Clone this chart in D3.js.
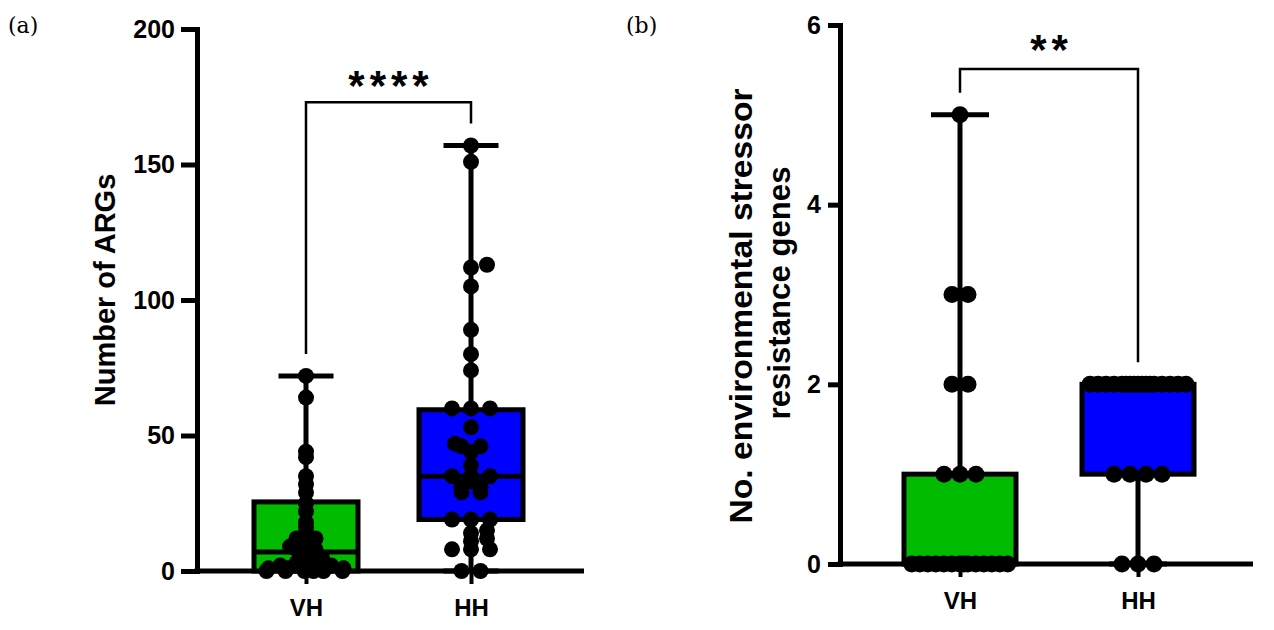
<!DOCTYPE html>
<html>
<head>
<meta charset="utf-8">
<script src="https://cdn.jsdelivr.net/npm/d3@7"></script>
<style>
  body { margin: 0; background: #fff; }
  text { font-family: "Liberation Sans", Arial, sans-serif; font-weight: bold; fill: #000; }
  .lab { font-family: "DejaVu Serif", "Liberation Serif", serif; font-weight: normal; }
</style>
</head>
<body>
<svg id="chart" width="1274" height="630"></svg>
<script>
var groups = ["VH", "HH"];
var colors = ["#00bb00", "#0000ff"];

// (a) number of ARGs per isolate
var argsVH = [72, 64, 44, 42, 35, 32, 29, 25, 22, 18, 16, 14, 12, 12, 10, 9, 8, 8,
              6, 5, 4, 3, 3, 2, 2, 2, 1, 1, 1, 1, 0, 0, 0, 0, 0, 0];
var argsHH = [157, 151, 113, 112, 105, 89, 80, 74, 60, 60, 60, 53, 47, 46, 46, 44, 39,
              35, 35, 35, 33, 31, 31, 29, 29, 19, 19, 19, 15, 14, 12, 11, 8, 8, 8, 0, 0];
// min, q1, median, q3, max as drawn
var argsBoxVH = [0, 0, 7, 25.5, 72];
var argsBoxHH = [0, 19, 35, 59.5, 157];
var argsTicks = [0, 50, 100, 150, 200];

// (b) environmental stressor resistance genes
var stressVH = [5, 3, 3, 2, 2, 1, 1, 1, 0, 0, 0, 0, 0, 0, 0, 0, 0, 0, 0, 0, 0, 0];
var stressHH = [2, 2, 2, 2, 2, 2, 2, 2, 2, 2, 2, 2, 2, 2, 2, 2, 2, 1, 1, 1, 1, 0, 0, 0];
var stressBoxVH = [0, 0, 0, 1, 5];
var stressBoxHH = [0, 1, 2, 2, 2];
var stressTicks = [0, 2, 4, 6];

var svg = d3.select("#chart");

// spread the dots sideways so they don't sit on top of each other
function swarm(values, y, dX, dY, maxHalf) {
  var pts = values.map(function(v) { return {v: v, y: y(v), dx: 0}; });
  var order = pts.slice().sort(function(a, b) { return a.v - b.v; });
  var placed = [];
  order.forEach(function(p) {
    var best = 0, bestScore = -1;
    for (var k = 0; k <= 2 * maxHalf; k++) {
      var c = (k % 2 ? 1 : -1) * Math.ceil(k / 2);
      var score = Infinity;
      placed.forEach(function(q) {
        var ny = (p.y - q.y) / dY, nx = (c - q.dx) / dX;
        if (Math.abs(ny) < 1) score = Math.min(score, Math.sqrt(nx * nx + ny * ny));
      });
      if (score >= 1) { best = c; break; }
      if (score > bestScore) { bestScore = score; best = c; }
    }
    p.dx = best;
    placed.push(p);
  });
  d3.group(pts, function(p) { return p.v; }).forEach(function(g) {
    if (g.length < 2) return;
    var m = d3.mean(g, function(p) { return p.dx; });
    g.forEach(function(p) { p.dx = Math.max(-maxHalf, Math.min(maxHalf, p.dx - m)); });
  });
  return pts;
}

function drawPanel(p) {
  var g = svg.append("g");
  var y = d3.scaleLinear().domain([p.ticks[0], p.ticks[p.ticks.length - 1]]).range([p.yBottom, p.yTop]);
  var x = d3.scalePoint().domain(groups).range(p.centers);

  // x axis line + category ticks
  g.append("line")
    .attr("x1", p.xAxis - 2.5).attr("x2", p.xEnd)
    .attr("y1", p.yBottom).attr("y2", p.yBottom)
    .attr("stroke", "#000").attr("stroke-width", 5);
  var xa = g.append("g")
    .attr("transform", "translate(0," + p.yBottom + ")")
    .call(d3.axisBottom(x).tickSize(13).tickPadding(15));
  xa.select(".domain").remove();
  xa.selectAll(".tick line").attr("stroke", "#000").attr("stroke-width", 4);
  xa.selectAll(".tick text").style("font-size", "24px");

  // y axis
  var ya = g.append("g")
    .attr("transform", "translate(" + p.xAxis + ",0)")
    .call(d3.axisLeft(y).tickValues(p.ticks).tickFormat(d3.format("d"))
      .tickSize(p.tickLen).tickSizeOuter(0).tickPadding(p.tickPad));
  ya.select(".domain").attr("stroke", "#000").attr("stroke-width", 5).attr("stroke-linecap", "square");
  ya.selectAll(".tick line").attr("stroke", "#000").attr("stroke-width", 5);
  ya.selectAll(".tick text").style("font-size", "25px");

  // axis title, one text per line
  p.title.forEach(function(line, i) {
    var t = g.append("text")
      .attr("transform", "translate(" + p.titleX[i] + "," + p.titleY[i] + ") rotate(-90)")
      .attr("text-anchor", "middle")
      .style("font-size", p.titleSize + "px")
      .text(line);
    if (p.titleLen) t.attr("textLength", p.titleLen[i]).attr("lengthAdjust", "spacingAndGlyphs");
  });

  // boxes and whiskers
  groups.forEach(function(name, i) {
    var b = p.boxes[i], cx = x(name);
    g.append("line").attr("x1", cx).attr("x2", cx)
      .attr("y1", y(b[3])).attr("y2", y(b[4]))
      .attr("stroke", "#000").attr("stroke-width", 5);
    g.append("line").attr("x1", cx).attr("x2", cx)
      .attr("y1", y(b[0])).attr("y2", y(b[1]))
      .attr("stroke", "#000").attr("stroke-width", 5);
    [b[0], b[4]].forEach(function(v) {
      g.append("line")
        .attr("x1", cx - p.capW / 2).attr("x2", cx + p.capW / 2)
        .attr("y1", y(v)).attr("y2", y(v))
        .attr("stroke", "#000").attr("stroke-width", 5);
    });
    g.append("rect")
      .attr("x", cx - p.boxW / 2).attr("width", p.boxW)
      .attr("y", y(b[3])).attr("height", y(b[1]) - y(b[3]))
      .attr("fill", colors[i]).attr("stroke", "#000").attr("stroke-width", 5);
    g.append("line")
      .attr("x1", cx - p.boxW / 2).attr("x2", cx + p.boxW / 2)
      .attr("y1", y(b[2])).attr("y2", y(b[2]))
      .attr("stroke", "#000").attr("stroke-width", 5);
  });

  // dots
  p.values.forEach(function(vals, i) {
    var cx = x(groups[i]);
    g.selectAll(null)
      .data(swarm(vals, y, p.dX, p.dY, p.maxHalf))
      .enter().append("circle")
      .attr("cx", function(d) { return cx + d.dx; })
      .attr("cy", function(d) { return d.y; })
      .attr("r", p.r)
      .attr("fill", "#000");
  });

  // significance bracket
  var by = y(p.bracket);
  var legs = [y(p.boxes[0][4]) - 22, y(p.boxes[1][4]) - 22];
  g.append("path")
    .attr("d", "M" + x("VH") + "," + legs[0] + "V" + by + "H" + x("HH") + "V" + legs[1])
    .attr("fill", "none").attr("stroke", "#000").attr("stroke-width", 2.5);
  g.append("text")
    .attr("x", (x("VH") + x("HH")) / 2 + 2.5).attr("y", by + p.starDy)
    .attr("text-anchor", "middle")
    .style("font-size", "42px")
    .style("letter-spacing", "5px")
    .text(p.stars);

  svg.append("text").attr("class", "lab")
    .attr("x", p.labX).attr("y", 33)
    .style("font-size", "22px")
    .text(p.label);
}

drawPanel({
  label: "(a)", labX: 8,
  ticks: argsTicks, yBottom: 571, yTop: 29,
  xAxis: 197, xEnd: 584, centers: [306, 471],
  tickLen: 16, tickPad: 6,
  title: ["Number of ARGs"], titleX: [115], titleY: [290], titleSize: 29,
  boxes: [argsBoxVH, argsBoxHH], boxW: 104, capW: 55,
  values: [argsVH, argsHH], r: 8, dX: 19, dY: 5, maxHalf: 47,
  bracket: 173, stars: "****", starDy: -2
});

drawPanel({
  label: "(b)", labX: 626,
  ticks: stressTicks, yBottom: 564, yTop: 25,
  xAxis: 840, xEnd: 1253, centers: [960, 1138],
  tickLen: 12, tickPad: 7,
  title: ["No. environmental stressor", "resistance genes"],
  titleX: [752, 790], titleY: [306, 293], titleSize: 31, titleLen: [435, 253],
  boxes: [stressBoxVH, stressBoxHH], boxW: 112, capW: 58,
  values: [stressVH, stressHH], r: 8.5, dX: 16, dY: 8, maxHalf: 50,
  bracket: 5.51, stars: "**", starDy: -5
});
</script>
</body>
</html>
